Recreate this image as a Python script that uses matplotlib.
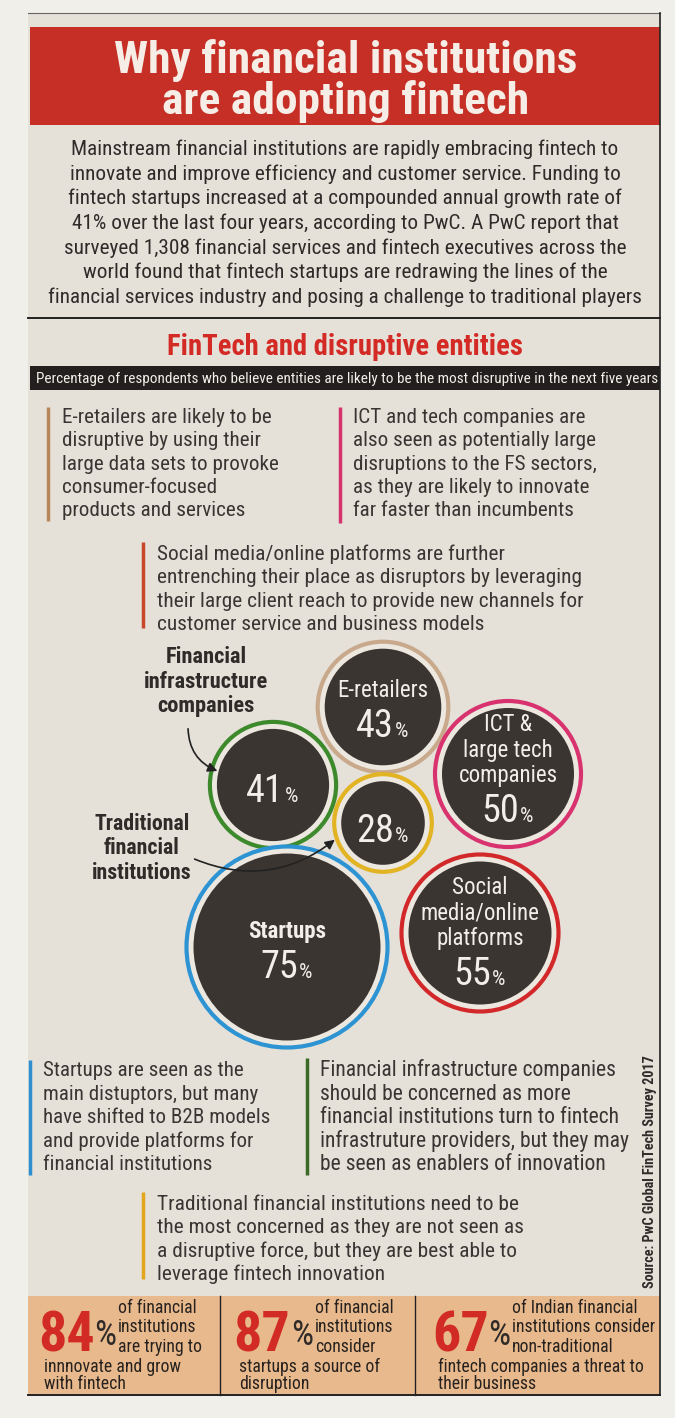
import matplotlib.pyplot as plt
from matplotlib.patches import Rectangle, Circle

# Share of respondents naming each entity as most disruptive (%)
entities = ['E-retailers', 'ICT & large tech companies', 'Financial infrastructure companies',
            'Traditional financial institutions', 'Startups', 'Social media/online platforms']
shares = [43, 50, 41, 28, 75, 55]
inner_labels = ['E-retailers', 'ICT &\nlarge tech\ncompanies', '', '',
                'Startups', 'Social\nmedia/online\nplatforms']

# Bottom strip figures
stat_values = [84, 87, 67]
stat_side = ['of financial\ninstitutions\nare trying to',
             'of financial\ninstitutions\nconsider',
             'of Indian financial\ninstitutions consider\nnon-traditional']
stat_under = ['innnovate and grow\nwith fintech',
              'startups a source of\ndisruption',
              'fintech companies a threat to\ntheir business']

title = 'Why financial institutions\nare adopting fintech'
intro = ('Mainstream financial institutions are rapidly embracing fintech to\n'
         'innovate and improve efficiency and customer service. Funding to\n'
         'fintech startups increased at a compounded annual growth rate of\n'
         '41% over the last four years, according to PwC. A PwC report that\n'
         'surveyed 1,308 financial services and fintech executives across the\n'
         'world found that fintech startups are redrawing the lines of the\n'
         'financial services industry and posing a challenge to traditional players')
subtitle = 'FinTech and disruptive entities'
band = ('Percentage of respondents who believe entities are likely to be '
        'the most disruptive in the next five years')
notes = [
    'E-retailers are likely to be\ndisruptive by using their\nlarge data sets to provoke\n'
    'consumer-focused\nproducts and services',
    'ICT and tech companies are\nalso seen as potentially large\ndisruptions to the FS sectors,\n'
    'as they are likely to innovate\nfar faster than incumbents',
    'Social media/online platforms are further\nentrenching their place as disruptors by leveraging\n'
    'their large client reach to provide new channels for\ncustomer service and business models',
    'Startups are seen as the\nmain distuptors, but many\nhave shifted to B2B models\n'
    'and provide platforms for\nfinancial institutions',
    'Financial infrastructure companies\nshould be concerned as more\n'
    'financial institutions turn to fintech\ninfrastruture providers, but they may\n'
    'be seen as enablers of innovation',
    'Traditional financial institutions need to be\nthe most concerned as they are not seen as\n'
    'a disruptive force, but they are best able to\nleverage fintech innovation',
]
source = 'Source: PwC Global FinTech Survey 2017'

# layout (pixel coordinates, y grows downwards)
centers = [(383, 707), (508, 774), (273, 785), (383, 823), (287, 947), (480, 933)]
num_base = [30, 48, 17, 19, 31, 52]
ring_cols = ['#c9a98c', '#d8336e', '#3d8a2c', '#e2b322', '#2d93d2', '#d3282a']
# bar x, first baseline, pitch, text x, widest line width, bar top, bar bottom, colour
note_pos = [(48, 423, 23.3, 62, 215, 407, 521, '#b8865a'),
            (340, 423, 23.3, 353, 242, 407, 523, '#d6336c'),
            (143, 560, 23.4, 157, 425, 542, 628, '#c9472a'),
            (30, 1076, 23.6, 43, 225, 1060, 1175, '#2d8fd0'),
            (307, 1076, 23.6, 320, 308, 1058, 1175, '#3b6a26'),
            (143, 1210, 23.4, 157, 363, 1192, 1279, '#e2a51e')]

plt.rcParams['font.family'] = ['Roboto Condensed', 'Liberation Sans Narrow', 'Roboto', 'DejaVu Sans']
DARK = '#2f2b29'
LIGHT = '#f2eee8'

fig = plt.figure(figsize=(6.75, 14.18), dpi=100, facecolor='#f1efea')
ax = fig.add_axes([0, 0, 1, 1])
ax.set_xlim(0, 675)
ax.set_ylim(1418, 0)
ax.axis('off')
rend = fig.canvas.get_renderer()


def block(x, y0, pitch, text, width, ha='left', **kw):
    # one text per line at a fixed baseline pitch, size set so the widest line fits
    ts = [ax.text(x, y0 + k * pitch, ln, ha=ha, va='baseline', fontsize=10, **kw)
          for k, ln in enumerate(text.split('\n'))]
    w = max(t.get_window_extent(rend).width for t in ts)
    for t in ts:
        t.set_fontsize(10 * width / w)
    return ts


def size_for(s, width, **kw):
    t = ax.text(0, 0, s, fontsize=10, **kw)
    w = t.get_window_extent(rend).width
    t.remove()
    return 10 * width / w


# panel, header band, separators
ax.add_patch(Rectangle((28, 13), 632, 1382, fc='#e5e1d9', ec='none'))
ax.plot([28, 660], [13, 13], color='#666', lw=0.8)
ax.plot([660, 660], [13, 1395], color='#222', lw=1.2)
ax.add_patch(Rectangle((30, 27), 630, 98, fc='#c62f26', ec='none'))
block(346, 73, 41, title, 463, ha='center', fontweight='bold', color='#f5ede6')
block(345, 155, 24.7, intro, 590, ha='center', color=DARK)
ax.plot([28, 660], [318, 318], color='#222', lw=1.4)
block(345, 355, 0, subtitle, 355, ha='center', fontweight='bold', color='#d42a25')
ax.add_patch(Rectangle((30, 366), 630, 24, fc='#221f1e', ec='none'))
block(347, 383, 0, band, 618, ha='center', color=LIGHT)

# annotation notes with coloured bars
for (bx, y0, pitch, tx, w, top, bot, c), s in zip(note_pos, notes):
    ax.plot([bx, bx], [top, bot], color=c, lw=2.5, solid_capstyle='butt')
    block(tx, y0, pitch, s, w, color='#3a3532')

# bubbles
lab_size = size_for('media/online', 118)
num_size = size_for('43', 38)
for i, v in enumerate(shares):
    cx, cy = centers[i]
    r = 18 + 1.1 * v
    ax.add_patch(Circle((cx, cy), r, fc='#ece8e0', ec=ring_cols[i], lw=3))
    ax.add_patch(Circle((cx, cy), r - 7, fc='#3b3531', ec='none'))
    base = cy + num_base[i]
    ax.text(cx + 11, base, str(v), ha='right', va='baseline', fontsize=num_size, color=LIGHT)
    ax.text(cx + 12, base, '%', ha='left', va='baseline', fontsize=num_size * 0.55, color=LIGHT)
    if inner_labels[i]:
        lines = inner_labels[i].split('\n')
        for k, ln in enumerate(lines):
            yy = base - 40 - 25.5 * (len(lines) - 1 - k)
            ax.text(cx, yy, ln, ha='center', va='baseline', fontsize=lab_size, color=LIGHT,
                    fontweight='bold' if entities[i] == 'Startups' else 'normal')

# outside labels with arrows
block(206, 663, 24.5, 'Financial\ninfrastructure\ncompanies', 124, ha='center',
      fontweight='bold', color=DARK)
ax.annotate('', xy=(220, 772), xytext=(188, 726),
            arrowprops=dict(arrowstyle='-|>', color='#222', lw=1.2,
                            connectionstyle='arc3,rad=0.35', mutation_scale=14))
block(142, 830, 24.5, 'Traditional\nfinancial\ninstitutions', 100, ha='center',
      fontweight='bold', color=DARK)
ax.annotate('', xy=(337, 838), xytext=(192, 858),
            arrowprops=dict(arrowstyle='-|>', color='#222', lw=1.2,
                            connectionstyle='arc3,rad=0.3', mutation_scale=14))

src = ax.text(650, 1172, source, rotation=90, ha='center', va='center', fontsize=10,
              fontweight='bold', color=DARK)
src.set_fontsize(10 * 234 / src.get_window_extent(rend).height)

# bottom stats strip
ax.add_patch(Rectangle((28, 1296), 632, 99, fc='#e8b98c', ec='none'))
ax.plot([28, 660], [1395, 1395], color='#222', lw=1.4)
for xd in [220, 415]:
    ax.plot([xd, xd], [1296, 1395], color='#222', lw=1.0)
stat_num = size_for('84', 57, fontweight='bold')
stat_txt = size_for('innnovate and grow', 137)
stat_x = [38, 233, 432]
side_x = [118, 315, 512]
for x0, sx, v, side, under in zip(stat_x, side_x, stat_values, stat_side, stat_under):
    ax.text(x0, 1351, str(v), ha='left', va='baseline', fontsize=stat_num, fontweight='bold',
            color='#d22a24')
    ax.text(sx - 2, 1345, '%', ha='right', va='baseline', fontsize=stat_num * 0.62,
            color=DARK)
    for k, ln in enumerate(side.split('\n')):
        ax.text(sx, 1313 + 19.5 * k, ln, ha='left', va='baseline', fontsize=stat_txt,
                color='#27221f')
    for k, ln in enumerate(under.split('\n')):
        ax.text(x0 + 6, 1372 + 17 * k, ln, ha='left', va='baseline', fontsize=stat_txt,
                color='#27221f')

fig.savefig('out.png', dpi=100, facecolor=fig.get_facecolor())
